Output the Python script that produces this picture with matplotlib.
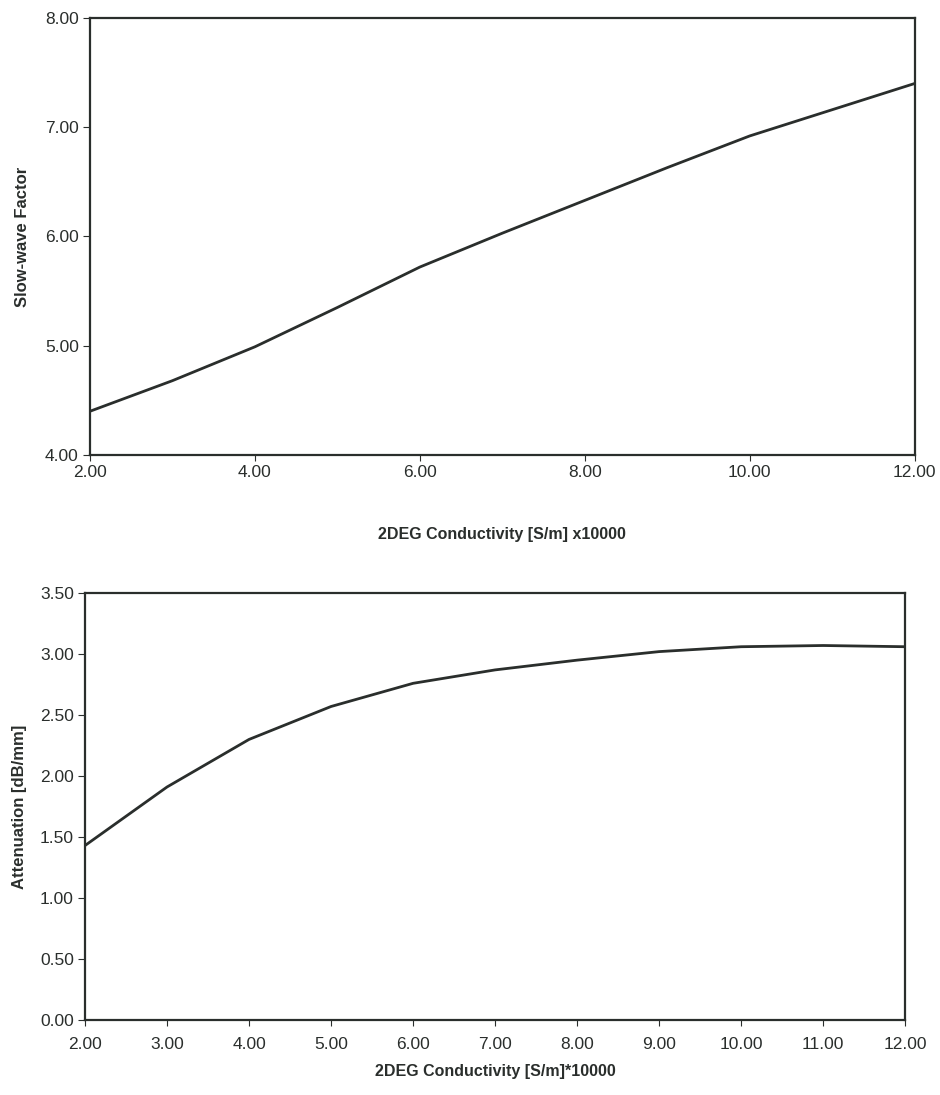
import matplotlib
matplotlib.use("Agg")
import matplotlib.pyplot as plt

# conductivity values (x10000 S/m)
cond = [2, 3, 4, 5, 6, 7, 8, 9, 10, 11, 12]
slow_wave = [4.40, 4.68, 4.99, 5.35, 5.72, 6.03, 6.33, 6.63, 6.92, 7.16, 7.40]
attenuation = [1.43, 1.91, 2.30, 2.57, 2.76, 2.87, 2.95, 3.02, 3.06, 3.07, 3.06]

top_xticks = [2, 4, 6, 8, 10, 12]
top_yticks = [4, 5, 6, 7, 8]
bot_xticks = [2, 3, 4, 5, 6, 7, 8, 9, 10, 11, 12]
bot_yticks = [0, 0.5, 1.0, 1.5, 2.0, 2.5, 3.0, 3.5]

plt.rcParams['font.family'] = ['Liberation Sans', 'DejaVu Sans']
ink = '#2a2e2c'

fig = plt.figure(figsize=(9.4, 10.95), dpi=100)

# top panel: slow-wave factor
ax1 = fig.add_axes([0.0957, 0.5845, 0.8773, 0.3991])
ax1.plot(cond, slow_wave, color=ink, lw=2.0)
ax1.set_xlim(2, 12)
ax1.set_ylim(4, 8)
ax1.set_xticks(top_xticks)
ax1.set_yticks(top_yticks)
ax1.set_xticklabels(['%.2f' % v for v in top_xticks])
ax1.set_yticklabels(['%.2f' % v for v in top_yticks])
ax1.tick_params(axis='x', direction='out', length=4, pad=3, labelsize=12.5, colors=ink)
ax1.tick_params(axis='y', direction='out', length=5, pad=3, labelsize=12.5, colors=ink)
ax1.set_xlabel('2DEG Conductivity [S/m] x10000', fontsize=11.5, fontweight='bold',
               color=ink, labelpad=34)
ax1.set_ylabel('Slow-wave Factor', fontsize=12, fontweight='bold', color=ink, labelpad=11)
for s in ax1.spines.values():
    s.set_linewidth(1.6)
    s.set_color(ink)

# bottom panel: attenuation
ax2 = fig.add_axes([0.0904, 0.0685, 0.8726, 0.3899])
ax2.plot(cond, attenuation, color=ink, lw=2.0)
ax2.set_xlim(2, 12)
ax2.set_ylim(0, 3.5)
ax2.set_xticks(bot_xticks)
ax2.set_yticks(bot_yticks)
ax2.set_xticklabels(['%.2f' % v for v in bot_xticks])
ax2.set_yticklabels(['%.2f' % v for v in bot_yticks])
ax2.tick_params(axis='x', direction='out', length=4, pad=8, labelsize=12.5, colors=ink)
ax2.tick_params(axis='y', direction='out', length=5, pad=3, labelsize=12.5, colors=ink)
ax2.set_xlabel('2DEG Conductivity [S/m]*10000', fontsize=11.5, fontweight='bold',
               color=ink, labelpad=9)
ax2.set_ylabel('Attenuation [dB/mm]', fontsize=12, fontweight='bold', color=ink, labelpad=9)
for s in ax2.spines.values():
    s.set_linewidth(1.6)
    s.set_color(ink)

fig.savefig('out.png', dpi=100)
